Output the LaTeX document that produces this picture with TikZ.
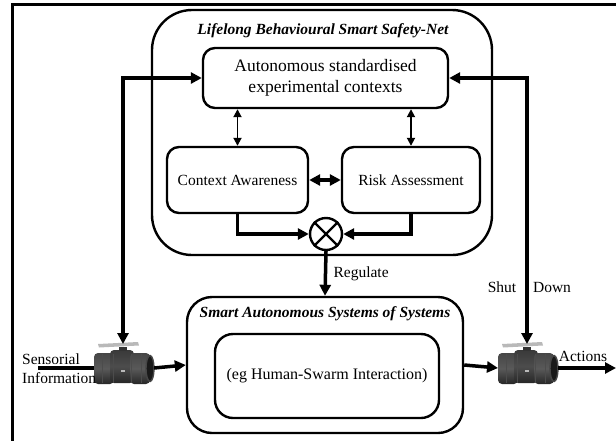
\documentclass[tikz,border=0pt]{standalone}
\usepackage{fontspec}
\setmainfont{Liberation Serif}
\usetikzlibrary{arrows.meta,calc}
\begin{document}
\begin{tikzpicture}[x=1pt,y=-1pt,
  boxline/.style={draw,line width=2.4pt},
  rbox/.style={boxline,rounded corners=12pt,inner sep=0pt,align=center},
  thickcon/.style={line width=3.5pt,-{Triangle[length=11pt,width=11pt]}},
  thickboth/.style={line width=3.5pt,{Triangle[length=11pt,width=11pt]}-{Triangle[length=11pt,width=11pt]}},
  thinboth/.style={line width=1.8pt,{Triangle[length=8pt,width=8pt]}-{Triangle[length=8pt,width=8pt]}},
  mainfont/.style={font=\fontsize{15.5}{19}\selectfont},
  titlefont/.style={font=\fontsize{15.5}{19}\selectfont\bfseries\itshape},
  valvepart/.style={top color=gray!55!black,bottom color=black!85,middle color=gray!70!black,rounded corners=4pt},
  valve/.pic={
    \shade[valvepart] (-29,-15) rectangle (-9,16);
    \shade[valvepart,top color=gray!45!black,middle color=gray!60!black] (-13,-18) rectangle (11,15);
    \shade[valvepart] (7,-15) rectangle (27,16);
    \draw[black!70,line width=0.6pt] (-10,-14) -- (-10,15) (8,-14) -- (8,15) (-21,-14) -- (-21,15) (18,-14) -- (18,15);
    \fill[gray!55] (-2,2) rectangle (2,3.5);
    \filldraw[fill=black!90,draw=gray!55!black,line width=1.4pt] (27,0.5) ellipse [x radius=4, y radius=13];
    \fill[gray!55] (-25,-24) -- (15,-26) -- (16,-22.5) -- (-24,-20.5) -- cycle;
    \fill[gray!40!black] (-4,-21) rectangle (4,-17);
    \coordinate (-top) at (0,-24);
    \coordinate (-left) at (-29,0);
    \coordinate (-right) at (31,0);
  }]
\useasboundingbox (0,0) rectangle (616,440);
\clip (0,0) rectangle (616,440);
% outer frame
\draw[line width=3pt] (12,460) -- (12,4) -- (640,4);
% safety-net box
\node[boxline,rounded corners=40pt,minimum width=340pt,minimum height=245pt,inner sep=0pt] (safety) at (322,132.5) {};
\node[titlefont] (safetytitle) at (323,31) {Lifelong Behavioural Smart Safety-Net};
\node[rbox,minimum width=245pt,minimum height=60pt,font=\fontsize{17.5}{21}\selectfont] (auto) at (325.5,78) {Autonomous standardised\\experimental contexts};
\node[rbox,minimum width=141pt,minimum height=66pt,mainfont] (ctx) at (237.5,180) {Context Awareness};
\node[rbox,minimum width=138pt,minimum height=66pt,mainfont] (risk) at (411,180) {Risk Assessment};
\node[draw,circle,line width=2.4pt,minimum size=32pt,inner sep=0pt] (circ) at (326,234) {};
\draw[line width=2.2pt] (circ.north west) -- (circ.south east) (circ.north east) -- (circ.south west);
% systems box
\node[boxline,rounded corners=25pt,minimum width=276pt,minimum height=136pt,inner sep=0pt] (sos) at (325,365) {};
\node[titlefont] (sostitle) at (325,314) {Smart Autonomous Systems of Systems};
\node[boxline,rounded corners=18pt,minimum width=224pt,minimum height=84pt,inner sep=0pt,font=\fontsize{16}{19}\selectfont] (inner) at (327,376) {(eg Human-Swarm Interaction)};
% valves
\pic (lv) at (123,368) {valve};
\pic (rv) at (527,368) {valve};
% connectors
\draw[thinboth] (ctx.north |- auto.south) -- (ctx.north);
\draw[thinboth] (risk.north |- auto.south) -- (risk.north);
\draw[thickboth] (ctx.east) -- (risk.west);
\draw[thickcon] (ctx.south) |- (circ.west);
\draw[thickcon] (risk.south) |- (circ.east);
\draw[thickcon] (circ.south) -- (sos.north) node[midway,right=3pt,mainfont] (reglabel) {Regulate};
\draw[thickboth] (lv-top) |- (auto.west);
\draw[thickboth] (rv-top) |- (auto.east);
\coordinate (sin) at (38,368);
\coordinate (aout) at (616,368);
\draw[line width=3.5pt] (sin) -- (lv-left);
\draw[thickcon] (lv-right) -- (sos.west);
\draw[thickcon] (sos.east) -- (rv-left);
\draw[thickcon] (rv-right) -- (aout);
% labels
\node[mainfont,anchor=west,align=left,inner sep=0pt] (sensor) at (22,369) {Sensorial\\Information};
\node[mainfont] (shut) at (502,287) {Shut};
\node[mainfont] (down) at (552,287) {Down};
\node[mainfont] (actions) at (583,356) {Actions};
\end{tikzpicture}
\end{document}
